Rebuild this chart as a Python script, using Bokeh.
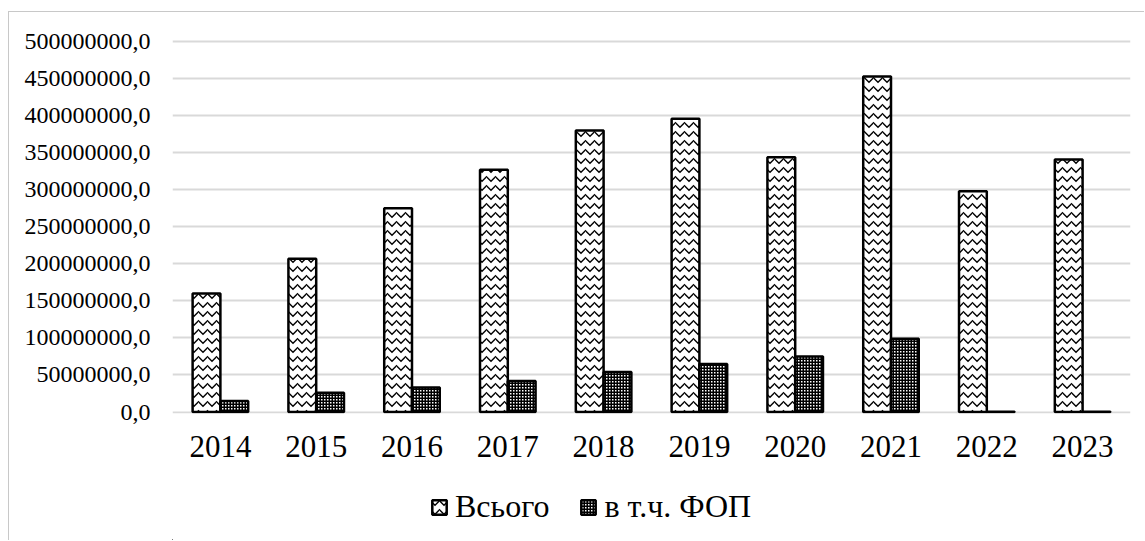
from bokeh.plotting import figure
from bokeh.models import (ColumnDataSource, FactorRange, Range1d, FixedTicker,
                          Legend, LegendItem)
from bokeh.layouts import column
from bokeh.transform import dodge
from bokeh.embed import file_html
from bokeh.resources import INLINE

years = ["2014", "2015", "2016", "2017", "2018", "2019", "2020", "2021", "2022", "2023"]
total = [160e6, 207e6, 275e6, 327e6, 380e6, 396e6, 344e6, 453e6, 298e6, 341e6]
fop = [15e6, 26e6, 33e6, 42e6, 54e6, 65e6, 75e6, 99e6, 0.4e6, 0.4e6]
y_ticks = [0, 50e6, 100e6, 150e6, 200e6, 250e6, 300e6, 350e6, 400e6, 450e6, 500e6]
y_tick_labels = ["0,0", "50000000,0", "100000000,0", "150000000,0", "200000000,0",
                 "250000000,0", "300000000,0", "350000000,0", "400000000,0",
                 "450000000,0", "500000000,0"]
series_names = ["Всього", "в т.ч. ФОП"]

FONT = "Liberation Serif"
STYLE_TOTAL = dict(fill_color="white", line_color="black", line_width=2.5,
                   hatch_pattern="horizontal_wave", hatch_color="black",
                   hatch_scale=9, hatch_weight=1.3)
STYLE_FOP = dict(fill_color="white", line_color="black", line_width=2.5,
                 hatch_pattern="cross", hatch_color="black",
                 hatch_scale=3, hatch_weight=2)

src = ColumnDataSource(dict(year=years, total=total, fop=fop))

p = figure(width=1135, height=476, output_backend="svg", toolbar_location=None,
           x_range=FactorRange(factors=years), y_range=Range1d(-2e6, 503e6),
           min_border_left=163, min_border_right=14, min_border_top=27,
           min_border_bottom=75)
p.outline_line_color = None
p.background_fill_color = "white"
p.border_fill_color = "white"

r1 = p.vbar(x=dodge("year", -0.145, range=p.x_range), top="total", bottom=0,
            width=0.29, source=src, **STYLE_TOTAL)
r2 = p.vbar(x=dodge("year", 0.145, range=p.x_range), top="fop", bottom=0,
            width=0.29, source=src, **STYLE_FOP)

p.xgrid.grid_line_color = None
p.ygrid.grid_line_color = "#d9d9d9"
p.ygrid.grid_line_width = 2
p.ygrid.ticker = FixedTicker(ticks=y_ticks)

p.yaxis.ticker = FixedTicker(ticks=y_ticks)
p.yaxis.major_label_overrides = {t: l for t, l in zip(y_ticks, y_tick_labels)}
for ax in (p.xaxis, p.yaxis):
    ax.axis_line_color = None
    ax.major_tick_line_color = None
    ax.minor_tick_line_color = None
    ax.major_tick_out = 0
    ax.major_tick_in = 0
    ax.major_label_text_font = FONT
    ax.major_label_text_color = "black"
p.yaxis.major_label_text_font_size = "24px"
p.yaxis.major_label_standoff = 22
p.xaxis.major_label_text_font_size = "31px"
p.xaxis.major_label_standoff = 22

# legend strip below the chart; zero-size proxy renderers carry the bar styles
q = figure(width=1135, height=52, output_backend="svg", toolbar_location=None,
           x_range=Range1d(0, 1), y_range=Range1d(0, 1),
           min_border_left=0, min_border_right=0, min_border_top=0,
           min_border_bottom=0)
q.axis.visible = False
q.grid.visible = False
q.outline_line_color = None
q.background_fill_color = "white"
q.border_fill_color = "white"
proxy = ColumnDataSource(dict(x=[-5.0], top=[-5.0], bottom=[-5.0]))
l1 = q.vbar(x="x", top="top", bottom="bottom", width=0, source=proxy, **STYLE_TOTAL)
l2 = q.vbar(x="x", top="top", bottom="bottom", width=0, source=proxy, **STYLE_FOP)

legend = Legend(items=[LegendItem(label=series_names[0], renderers=[l1]),
                       LegendItem(label=series_names[1], renderers=[l2])],
                orientation="horizontal", location=(258, 15),
                glyph_width=18, glyph_height=18, label_standoff=7, spacing=30,
                padding=0, margin=0, border_line_color=None,
                background_fill_alpha=0, label_text_font=FONT,
                label_text_font_size="32px", label_text_color="black")
q.add_layout(legend)

layout = column(p, q)
layout.margin = (11, 0, 0, 8)
layout.styles = {"border-left": "1px solid #c8c8c8", "border-top": "1px solid #c8c8c8"}

open("out.html", "w").write(file_html(layout, INLINE))
